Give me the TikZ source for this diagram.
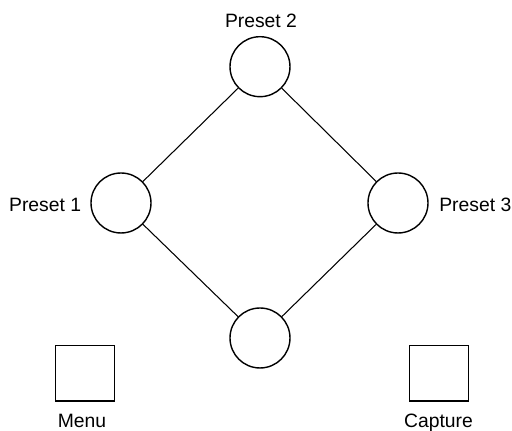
\documentclass[tikz,border=0pt]{standalone}
\usepackage{fontspec}
\setmainfont{Liberation Sans}

\tikzset{
  preset/.style={draw, circle, line width=0.8pt, minimum size=1.2cm, inner sep=0pt},
  button/.style={draw, rectangle, line width=0.8pt, minimum width=1.17cm, minimum height=1.11cm, inner sep=0pt},
  caption/.style={font=\fontsize{11}{13}\selectfont, inner sep=0pt}
}

\begin{document}
\begin{tikzpicture}[x=0.02cm, y=-0.02cm]
        \useasboundingbox (0,0) rectangle (512,431);
        
        \node[preset] (top) at (260, 66.7) {};
        \node[preset] (left) at (121, 203) {};
        \node[preset] (right) at (398, 203) {};
        \node[preset] (bottom) at (260, 338) {};
        
        \node[button] (menu) at (85, 373.3) {};
        \node[button] (capture) at (439, 373.3) {};
        
        \node[caption, anchor=base] (toplabel) at (261, 27.5) {Preset 2};
        \node[caption, anchor=base east] (leftlabel) at (81.5, 211.5) {Preset 1};
        \node[caption, anchor=base west] (rightlabel) at (439, 211.5) {Preset 3};
        \node[caption, anchor=base] (menulabel) at (82, 428) {Menu};
        \node[caption, anchor=base] (capturelabel) at (438.5, 428) {Capture};
        
        \draw[line width=0.6pt] (top) -- (left) -- (bottom) -- (right) -- (top);
        
    \end{tikzpicture}
\end{document}
